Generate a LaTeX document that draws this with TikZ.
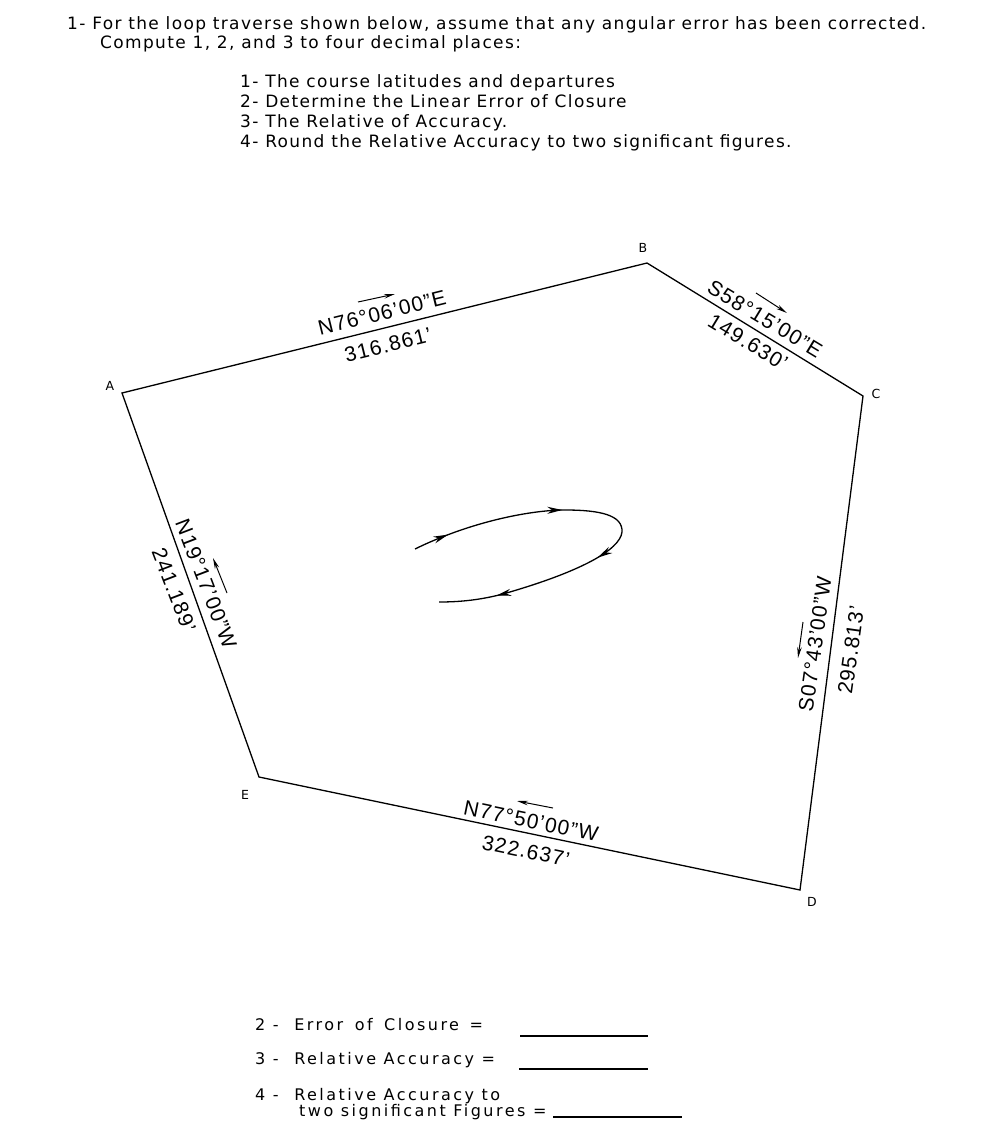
\documentclass[tikz,border=0pt]{standalone}
\usepackage{fontspec}
\setmainfont[LetterSpace=5.5]{Liberation Sans}
\newfontfamily\plainfont[LetterSpace=8.0]{DejaVu Sans}
\newfontfamily\wideplain[LetterSpace=15.5]{DejaVu Sans}
\newfontfamily\ptfont{DejaVu Sans}
\usetikzlibrary{positioning,arrows.meta,decorations.markings}
\tikzset{
  headtext/.style={anchor=base west, inner sep=0pt, font=\plainfont\fontsize{17}{18}\selectfont},
  foottext/.style={anchor=base west, inner sep=0pt, font=\wideplain\fontsize{16}{18}\selectfont},
  ptlabel/.style={inner sep=0pt, font=\ptfont\fontsize{12.5}{14}\selectfont},
  linelabel/.style={inner sep=0pt, font=\fontsize{21}{23}\selectfont},
  dirarrow/.style={-{Stealth[length=11pt,width=4.5pt]}, line width=1pt},
  traverse/.style={line width=1.3pt, line join=miter},
  blank/.style={line width=1.2pt}
}
\begin{document}
\begin{tikzpicture}[x=1pt, y=-1pt]
  \useasboundingbox (0,0) rectangle (1001,1130);

  % question text
  \node[headtext] (Question) at (67,29) {1- For the loop traverse shown below, assume that any angular error has been corrected.};
  \node[headtext] (Compute) at (100,48) {Compute 1, 2, and 3 to four decimal places:};
  \node[headtext] (ItemA) at (240,87) {1- The course latitudes and departures};
  \node[headtext] (ItemB) at (240,107) {2- Determine the Linear Error of Closure};
  \node[headtext] (ItemC) at (240,127) {3- The Relative of Accuracy.};
  \node[headtext] (ItemD) at (240,147) {4- Round the Relative Accuracy to two significant figures.};

  % traverse
  \coordinate (A) at (122,393);
  \coordinate (B) at (647,263);
  \coordinate (C) at (863,396);
  \coordinate (D) at (800,890);
  \coordinate (E) at (259,777);
  \draw[traverse] (A) -- (B) -- (C) -- (D) -- (E) -- cycle;

  \node[ptlabel] (LabelA) at (110,386) {A};
  \node[ptlabel] (LabelB) at (643,248) {B};
  \node[ptlabel] (LabelC) at (876,394) {C};
  \node[ptlabel] (LabelD) at (812,902) {D};
  \node[ptlabel] (LabelE) at (245,795) {E};

  % courses
  \node[linelabel, rotate=13.9] (BearAB) at (382,313) {N76°06’00”E};
  \node[linelabel, rotate=13.9] (DistAB) at (388,345) {316.861’};
  \node[linelabel, rotate=-31.2] (BearBC) at (765,319) {S58°15’00”E};
  \node[linelabel, rotate=-31.2] (DistBC) at (748,342) {149.630’};
  \node[linelabel, rotate=82] (BearCD) at (815,644) {S07°43’00”W};
  \node[linelabel, rotate=82] (DistCD) at (851,650) {295.813’};
  \node[linelabel, rotate=-11.6] (BearDE) at (531,821) {N77°50’00”W};
  \node[linelabel, rotate=-11.6] (DistDE) at (526,851) {322.637’};
  \node[linelabel, rotate=-69] (BearEA) at (206,584) {N19°17’00”W};
  \node[linelabel, rotate=-69] (DistEA) at (174,590) {241.189’};

  % direction arrows
  \coordinate (ArrowAB) at (358,302);
  \coordinate (TipAB) at (395,294);
  \coordinate (ArrowBC) at (756,293);
  \coordinate (TipBC) at (787,313);
  \coordinate (ArrowCD) at (803,622);
  \coordinate (TipCD) at (798,658);
  \coordinate (ArrowDE) at (553,808);
  \coordinate (TipDE) at (517,801);
  \coordinate (ArrowEA) at (227,593);
  \coordinate (TipEA) at (213,558);
  \draw[dirarrow] (ArrowAB) -- (TipAB);
  \draw[dirarrow] (ArrowBC) -- (TipBC);
  \draw[dirarrow] (ArrowCD) -- (TipCD);
  \draw[dirarrow] (ArrowDE) -- (TipDE);
  \draw[dirarrow] (ArrowEA) -- (TipEA);

  % loop direction
  \draw[line width=1.3pt, postaction={decorate}, decoration={markings,
      mark=at position 0.085 with {\arrow{Stealth[length=15pt,width=7pt]}},
      mark=at position 0.36 with {\arrow{Stealth[length=15pt,width=7pt]}},
      mark=at position 0.61 with {\arrow{Stealth[length=15pt,width=7pt]}},
      mark=at position 0.865 with {\arrow{Stealth[length=15pt,width=7pt]}}}]
    (415,549) .. controls (470,522) and (530,510) .. (565,510)
    .. controls (600,510) and (623,515) .. (622,532)
    .. controls (620,550) and (580,572) .. (503,594)
    .. controls (480,600) and (460,602) .. (439,602);

  % answers
  \node[foottext] (Closure) at (255,1030) {2 -\hspace{8pt} Error\hspace{4pt} of\hspace{4pt} Closure\hspace{3pt} =};
  \node[foottext] (Accuracy) at (255,1064) {3 -\hspace{8pt} Relative Accuracy =};
  \node[foottext] (Rounded) at (255,1100) {4 -\hspace{8pt} Relative Accuracy to};
  \node[foottext] (Figures) at (299,1116) {two significant Figures =};
  \coordinate (ClosureL) at (520,1036);
  \coordinate (ClosureR) at (648,1036);
  \coordinate (AccuracyL) at (519,1069);
  \coordinate (AccuracyR) at (648,1069);
  \coordinate (FiguresL) at (553,1117);
  \coordinate (FiguresR) at (682,1117);
  \draw[blank] (ClosureL) -- (ClosureR);
  \draw[blank] (AccuracyL) -- (AccuracyR);
  \draw[blank] (FiguresL) -- (FiguresR);
\end{tikzpicture}
\end{document}
